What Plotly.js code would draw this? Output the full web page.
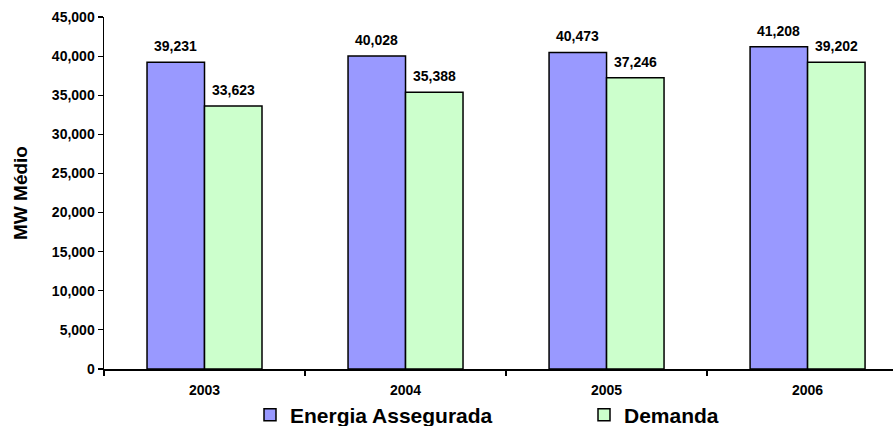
<!DOCTYPE html>
<html>
<head>
<meta charset="utf-8">
<script src="https://cdn.plot.ly/plotly-3.0.1.min.js"></script>
<style>html,body{margin:0;padding:0;background:#fff;}#chart{width:894px;height:426px;}</style>
</head>
<body>
<div id="chart"></div>
<script>
var years = ["2003", "2004", "2005", "2006"];
var energiaAssegurada = [39231, 40028, 40473, 41208];
var demanda = [33623, 35388, 37246, 39202];
var seriesNames = ["Energia Assegurada", "Demanda"];
var yTickVals = [0, 5000, 10000, 15000, 20000, 25000, 30000, 35000, 40000, 45000];

var FONT = "Liberation Sans, Arial, sans-serif";
function fmt(v) { return v.toLocaleString("en-US"); }

var BARGAP = 0.428;
var half = (1 - BARGAP) / 4;

var traces = [
  {type: "bar", name: "<b>" + seriesNames[0] + "</b>", x: years, y: energiaAssegurada,
   marker: {color: "#9999FF", line: {color: "#000000", width: 1.5}}, hoverinfo: "x+y"},
  {type: "bar", name: "<b>" + seriesNames[1] + "</b>", x: years, y: demanda,
   marker: {color: "#CCFFCC", line: {color: "#000000", width: 1.5}}, hoverinfo: "x+y"}
];

var annotations = [];
[energiaAssegurada, demanda].forEach(function (arr, si) {
  arr.forEach(function (v, i) {
    annotations.push({
      x: i + (si === 0 ? -half : half), y: v, xref: "x", yref: "y",
      text: "<b>" + fmt(v) + "</b>", showarrow: false,
      xanchor: "center", yanchor: "bottom", yshift: 6,
      font: {family: FONT, size: 14, color: "#000000"}
    });
  });
});

var layout = {
  width: 894, height: 426,
  margin: {l: 104, r: 1, t: 17, b: 57, autoexpand: false},
  paper_bgcolor: "#fff", plot_bgcolor: "#fff",
  barmode: "group", bargap: BARGAP, bargroupgap: 0,
  font: {family: FONT, color: "#000"},
  xaxis: {
    type: "category", range: [-0.5, 3.425],
    tickvals: years, ticktext: years.map(function (y) { return "<b>" + y + "</b>"; }),
    showline: true, linecolor: "#000", linewidth: 1.5,
    ticks: "outside", tickson: "boundaries", ticklen: 5, tickcolor: "#000", tickwidth: 1.2,
    ticklabelstandoff: 8,
    tickfont: {family: FONT, size: 14, color: "#000"},
    showgrid: false, zeroline: false, fixedrange: true
  },
  yaxis: {
    range: [0, 45000], tickvals: yTickVals,
    ticktext: yTickVals.map(function (v) { return "<b>" + fmt(v) + "</b>"; }),
    showline: true, linecolor: "#000", linewidth: 1.5,
    ticks: "outside", ticklen: 5, tickcolor: "#000", tickwidth: 1.2,
    tickfont: {family: FONT, size: 14, color: "#000"},
    showgrid: false, zeroline: false, fixedrange: true,
    title: {text: "<b>MW Médio</b>", font: {family: FONT, size: 19, color: "#000"}, standoff: 19}
  },
  showlegend: true,
  legend: {
    orientation: "h", xref: "container", yref: "container",
    x: 250 / 894, xanchor: "left", y: 1 - 415 / 426, yanchor: "middle",
    font: {family: FONT, size: 21, color: "#000"},
    itemwidth: 30, entrywidth: 289, entrywidthmode: "pixels",
    bgcolor: "rgba(0,0,0,0)", traceorder: "normal"
  },
  annotations: annotations
};

Plotly.newPlot("chart", traces, layout, {displayModeBar: false, staticPlot: true});
</script>
</body>
</html>
